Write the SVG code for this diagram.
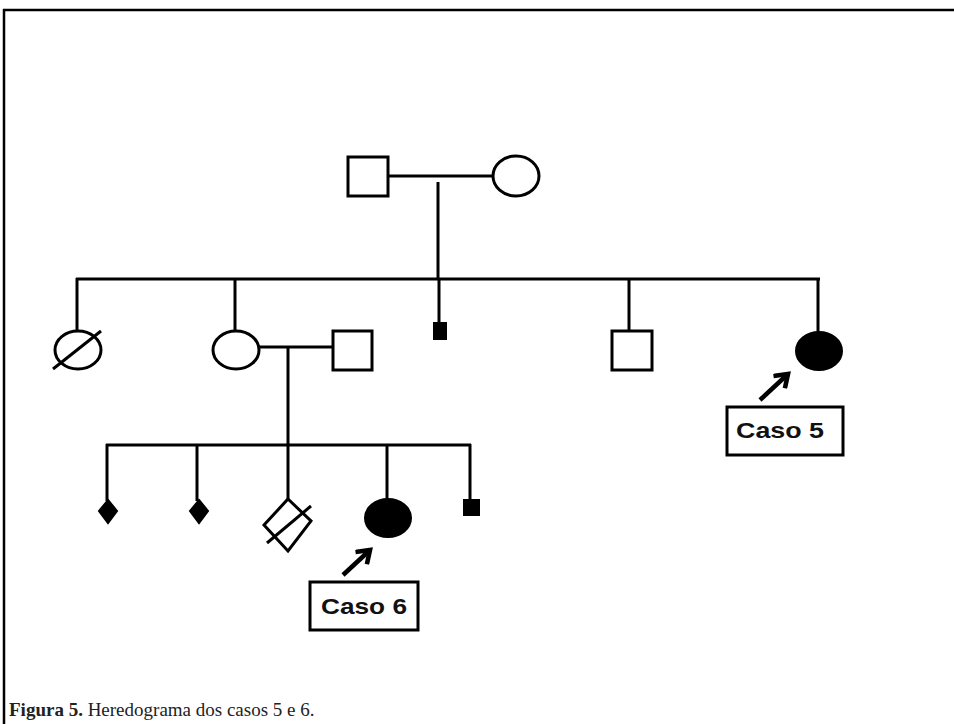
<svg xmlns="http://www.w3.org/2000/svg" width="954" height="724" viewBox="0 0 954 724">
<style>
.ln{stroke:#000;stroke-width:3;fill:none;stroke-linecap:butt}
.sh{stroke:#000;stroke-width:3;fill:#fff}
.fl{fill:#000;stroke:#000;stroke-width:2}
.lbl{font-family:"Liberation Sans",Arial,sans-serif;font-weight:bold;font-size:22px;fill:#111}
.box{fill:#fff;stroke:#000;stroke-width:3}
.cap{font-family:"Liberation Serif","Times New Roman",serif;font-size:19px;fill:#222}
.arw{stroke:#000;stroke-width:4.5;fill:none}
</style>
<defs>
<marker id="arr" viewBox="0 0 10 10" refX="7.5" refY="5" markerWidth="20" markerHeight="20" markerUnits="userSpaceOnUse" orient="auto">
<path d="M1.5,0.8 L7.5,5 L1.5,9.2" fill="none" stroke="#000" stroke-width="2.3" stroke-linejoin="miter"/>
</marker>
</defs>
<rect width="954" height="724" fill="#fff"/>
<g id="frame">
<line x1="3" y1="10" x2="954" y2="10" stroke="#000" stroke-width="2.5"/>
<line x1="4" y1="9" x2="4" y2="724" stroke="#000" stroke-width="2.5"/>
</g>
<g id="connectors">
<line class="ln" x1="388" y1="176" x2="493" y2="176"/>
<line class="ln" x1="438" y1="182" x2="438" y2="280"/>
<line class="ln" x1="76" y1="279" x2="820" y2="279"/>
<line class="ln" x1="77" y1="278" x2="77" y2="331"/>
<line class="ln" x1="235" y1="279" x2="235" y2="331"/>
<line class="ln" x1="439" y1="279" x2="439" y2="324"/>
<line class="ln" x1="629" y1="279" x2="629" y2="331"/>
<line class="ln" x1="818" y1="278" x2="818" y2="332"/>
<line class="ln" x1="260" y1="347" x2="333" y2="347"/>
<line class="ln" x1="288" y1="347" x2="288" y2="500"/>
<line class="ln" x1="106" y1="445" x2="471" y2="445"/>
<line class="ln" x1="107" y1="444" x2="107" y2="501"/>
<line class="ln" x1="197" y1="445" x2="197" y2="501"/>
<line class="ln" x1="387" y1="445" x2="387" y2="499"/>
<line class="ln" x1="470" y1="444" x2="470" y2="501"/>
<line class="arw" x1="760" y1="400" x2="788" y2="374" marker-end="url(#arr)"/>
<line class="arw" x1="343" y1="575" x2="370" y2="550" marker-end="url(#arr)"/>
</g>
<g id="I-1"><rect class="sh" x="348" y="157" width="40" height="39"/></g>
<g id="I-2"><ellipse class="sh" cx="516" cy="176" rx="23" ry="20"/></g>
<g id="II-1"><ellipse class="sh" cx="78" cy="350" rx="23" ry="19"/><line class="ln" x1="53" y1="369" x2="101" y2="331"/></g>
<g id="II-2"><ellipse class="sh" cx="236" cy="350" rx="23" ry="19"/></g>
<g id="II-2-spouse"><rect class="sh" x="333" y="331" width="39" height="39"/></g>
<g id="II-3"><rect class="fl" x="434" y="323" width="12" height="16"/></g>
<g id="II-4"><rect class="sh" x="612" y="331" width="40" height="39"/></g>
<g id="II-5"><ellipse class="fl" cx="819" cy="351" rx="23" ry="19"/></g>
<g id="III-1"><polygon class="fl" points="108,500 117,511 108,523 99,511"/></g>
<g id="III-2"><polygon class="fl" points="199,500 208,511 199,523 190,511"/></g>
<g id="III-3"><polygon class="sh" points="288,499 311,521 288,551 264,525"/><line class="ln" x1="267" y1="543" x2="311" y2="506"/></g>
<g id="III-4"><ellipse class="fl" cx="388" cy="518" rx="23" ry="19"/></g>
<g id="III-5"><rect class="fl" x="464" y="500" width="15" height="15"/></g>
<g id="caso5"><rect class="box" x="727" y="407" width="116" height="48"/><text class="lbl" x="736" y="438" textLength="88" lengthAdjust="spacingAndGlyphs">Caso 5</text></g>
<g id="caso6"><rect class="box" x="310" y="582" width="108" height="48"/><text class="lbl" x="321" y="614" textLength="86" lengthAdjust="spacingAndGlyphs">Caso 6</text></g>
<g id="caption"><text class="cap" x="9" y="716"><tspan font-weight="bold">Figura 5.</tspan> Heredograma dos casos 5 e 6.</text></g>
</svg>
